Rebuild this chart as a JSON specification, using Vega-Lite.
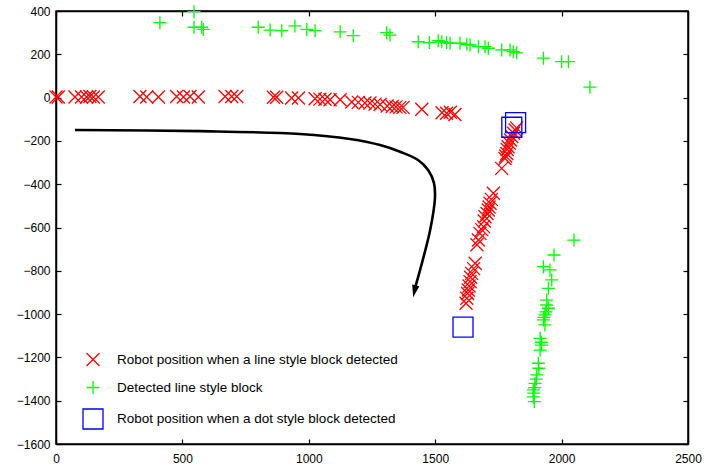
{
  "$schema": "https://vega.github.io/schema/vega-lite/v6.json",
  "width": 632,
  "height": 433,
  "autosize": {"type": "none"},
  "padding": {"left": 56, "top": 11, "right": 29, "bottom": 22},
  "background": "#ffffff",
  "config": {
    "view": {"stroke": "#000000", "strokeWidth": 1.5},
    "font": "Liberation Sans",
    "axis": {
      "labelFont": "Liberation Sans",
      "labelFontSize": 12,
      "labelColor": "#000000",
      "tickColor": "#000000",
      "domainColor": "#000000",
      "domainWidth": 1.5,
      "tickWidth": 1.2,
      "tickSize": -5,
      "grid": false,
      "labelFlush": false,
      "labelOverlap": false,
      "format": "d",
      "title": null
    },
    "legend": {
      "labelFont": "Liberation Sans", "labelFontSize": 13.5, "labelColor": "#000000", "labelLimit": 0,
      "labelOffset": 13, "rowPadding": 9, "symbolStrokeWidth": 1.3, "padding": 0
    }
  },
  "datasets": {
    "pts": [
      {"x": 0, "y": 3, "k": "a"}, {"x": 9, "y": 3, "k": "a"}, {"x": 75, "y": 3, "k": "a"}, {"x": 101, "y": 3, "k": "a"},
      {"x": 121, "y": 3, "k": "a"}, {"x": 134, "y": 5, "k": "a"}, {"x": 148, "y": 3, "k": "a"}, {"x": 167, "y": 3, "k": "a"},
      {"x": 332, "y": 5, "k": "a"}, {"x": 359, "y": 3, "k": "a"}, {"x": 405, "y": 3, "k": "a"}, {"x": 477, "y": 5, "k": "a"},
      {"x": 504, "y": 3, "k": "a"}, {"x": 530, "y": 5, "k": "a"}, {"x": 563, "y": 3, "k": "a"}, {"x": 669, "y": 5, "k": "a"},
      {"x": 695, "y": 5, "k": "a"}, {"x": 715, "y": 5, "k": "a"}, {"x": 860, "y": 2, "k": "a"}, {"x": 873, "y": 2, "k": "a"},
      {"x": 932, "y": -2, "k": "a"}, {"x": 959, "y": -2, "k": "a"}, {"x": 1025, "y": -5, "k": "a"}, {"x": 1044, "y": -7, "k": "a"},
      {"x": 1064, "y": -8, "k": "a"}, {"x": 1084, "y": -10, "k": "a"}, {"x": 1124, "y": -10, "k": "a"}, {"x": 1170, "y": -20, "k": "a"},
      {"x": 1196, "y": -22, "k": "a"}, {"x": 1222, "y": -25, "k": "a"}, {"x": 1242, "y": -25, "k": "a"}, {"x": 1262, "y": -30, "k": "a"},
      {"x": 1282, "y": -32, "k": "a"}, {"x": 1310, "y": -39, "k": "a"}, {"x": 1330, "y": -41, "k": "a"}, {"x": 1345, "y": -43, "k": "a"},
      {"x": 1360, "y": -45, "k": "a"}, {"x": 1373, "y": -45, "k": "a"}, {"x": 1447, "y": -54, "k": "a"}, {"x": 1527, "y": -70, "k": "a"},
      {"x": 1545, "y": -72, "k": "a"}, {"x": 1560, "y": -68, "k": "a"}, {"x": 1578, "y": -78, "k": "a"},
      {"x": 1822, "y": -140, "k": "a"}, {"x": 1816, "y": -150, "k": "a"}, {"x": 1810, "y": -165, "k": "a"}, {"x": 1803, "y": -180, "k": "a"},
      {"x": 1798, "y": -196, "k": "a"}, {"x": 1793, "y": -210, "k": "a"}, {"x": 1788, "y": -227, "k": "a"}, {"x": 1785, "y": -240, "k": "a"},
      {"x": 1783, "y": -258, "k": "a"}, {"x": 1779, "y": -270, "k": "a"}, {"x": 1776, "y": -281, "k": "a"}, {"x": 1763, "y": -327, "k": "a"},
      {"x": 1730, "y": -442, "k": "a"}, {"x": 1722, "y": -470, "k": "a"}, {"x": 1717, "y": -488, "k": "a"}, {"x": 1713, "y": -505, "k": "a"},
      {"x": 1710, "y": -519, "k": "a"}, {"x": 1705, "y": -535, "k": "a"}, {"x": 1697, "y": -550, "k": "a"}, {"x": 1694, "y": -570, "k": "a"},
      {"x": 1691, "y": -596, "k": "a"}, {"x": 1684, "y": -610, "k": "a"}, {"x": 1677, "y": -627, "k": "a"}, {"x": 1671, "y": -658, "k": "a"},
      {"x": 1665, "y": -680, "k": "a"}, {"x": 1658, "y": -765, "k": "a"}, {"x": 1652, "y": -790, "k": "a"}, {"x": 1644, "y": -812, "k": "a"},
      {"x": 1640, "y": -830, "k": "a"}, {"x": 1638, "y": -850, "k": "a"}, {"x": 1634, "y": -870, "k": "a"}, {"x": 1631, "y": -889, "k": "a"},
      {"x": 1628, "y": -905, "k": "a"}, {"x": 1625, "y": -927, "k": "a"}, {"x": 1622, "y": -950, "k": "a"},
      {"x": 411, "y": 346, "k": "b"}, {"x": 546, "y": 397, "k": "b"}, {"x": 546, "y": 325, "k": "b"}, {"x": 576, "y": 325, "k": "b"},
      {"x": 583, "y": 315, "k": "b"}, {"x": 800, "y": 325, "k": "b"}, {"x": 847, "y": 312, "k": "b"}, {"x": 893, "y": 309, "k": "b"},
      {"x": 945, "y": 331, "k": "b"}, {"x": 992, "y": 315, "k": "b"}, {"x": 1025, "y": 309, "k": "b"}, {"x": 1124, "y": 304, "k": "b"},
      {"x": 1176, "y": 286, "k": "b"}, {"x": 1308, "y": 300, "k": "b"}, {"x": 1321, "y": 289, "k": "b"}, {"x": 1433, "y": 258, "k": "b"},
      {"x": 1477, "y": 254, "k": "b"}, {"x": 1512, "y": 263, "k": "b"}, {"x": 1526, "y": 258, "k": "b"}, {"x": 1545, "y": 254, "k": "b"},
      {"x": 1559, "y": 251, "k": "b"}, {"x": 1598, "y": 251, "k": "b"}, {"x": 1625, "y": 246, "k": "b"}, {"x": 1638, "y": 243, "k": "b"},
      {"x": 1671, "y": 235, "k": "b"}, {"x": 1697, "y": 235, "k": "b"}, {"x": 1710, "y": 228, "k": "b"}, {"x": 1763, "y": 220, "k": "b"},
      {"x": 1796, "y": 220, "k": "b"}, {"x": 1809, "y": 212, "k": "b"}, {"x": 1822, "y": 207, "k": "b"}, {"x": 1928, "y": 182, "k": "b"},
      {"x": 2000, "y": 166, "k": "b"}, {"x": 2027, "y": 166, "k": "b"}, {"x": 2112, "y": 48, "k": "b"},
      {"x": 2049, "y": -658, "k": "b"}, {"x": 1970, "y": -727, "k": "b"}, {"x": 1928, "y": -781, "k": "b"}, {"x": 1954, "y": -796, "k": "b"},
      {"x": 1961, "y": -842, "k": "b"}, {"x": 1948, "y": -881, "k": "b"}, {"x": 1941, "y": -935, "k": "b"}, {"x": 1941, "y": -958, "k": "b"},
      {"x": 1948, "y": -973, "k": "b"}, {"x": 1938, "y": -990, "k": "b"}, {"x": 1934, "y": -1004, "k": "b"}, {"x": 1930, "y": -1015, "k": "b"},
      {"x": 1928, "y": -1027, "k": "b"}, {"x": 1934, "y": -1050, "k": "b"}, {"x": 1915, "y": -1112, "k": "b"}, {"x": 1920, "y": -1130, "k": "b"},
      {"x": 1921, "y": -1143, "k": "b"}, {"x": 1915, "y": -1166, "k": "b"}, {"x": 1908, "y": -1227, "k": "b"}, {"x": 1910, "y": -1250, "k": "b"},
      {"x": 1902, "y": -1281, "k": "b"}, {"x": 1900, "y": -1300, "k": "b"}, {"x": 1895, "y": -1320, "k": "b"}, {"x": 1893, "y": -1340, "k": "b"},
      {"x": 1888, "y": -1350, "k": "b"}, {"x": 1890, "y": -1365, "k": "b"}, {"x": 1888, "y": -1382, "k": "b"}, {"x": 1892, "y": -1404, "k": "b"},
      {"x": 1818, "y": -116, "k": "c"}, {"x": 1803, "y": -137, "k": "c"}, {"x": 1610, "y": -1060, "k": "c"}
    ],
    "curve": [
      {"i": 0, "x": 75, "y": -150}, {"i": 1, "x": 570, "y": -155}, {"i": 2, "x": 965, "y": -168},
      {"i": 3, "x": 1163, "y": -191}, {"i": 4, "x": 1282, "y": -219}, {"i": 5, "x": 1361, "y": -250},
      {"i": 6, "x": 1432, "y": -288}, {"i": 7, "x": 1472, "y": -334}, {"i": 8, "x": 1495, "y": -394},
      {"i": 9, "x": 1499, "y": -464}, {"i": 10, "x": 1480, "y": -612}, {"i": 11, "x": 1440, "y": -797},
      {"i": 12, "x": 1420, "y": -880}
    ],
    "head": [{"x": 1418, "y": -895}]
  },
  "layer": [
    {
      "data": {"name": "pts"},
      "mark": {"type": "point", "filled": false, "strokeWidth": 1.3, "opacity": 1},
      "encoding": {
        "x": {"field": "x", "type": "quantitative",
              "scale": {"domain": [0, 2500], "nice": false, "zero": false},
              "axis": {"orient": "bottom", "values": [0, 500, 1000, 1500, 2000, 2500], "labelPadding": 14}},
        "y": {"field": "y", "type": "quantitative",
              "scale": {"domain": [-1600, 400], "nice": false, "zero": false},
              "axis": {"orient": "left", "values": [-1600, -1400, -1200, -1000, -800, -600, -400, -200, 0, 200, 400], "labelPadding": 11}},
        "shape": {"field": "k", "type": "nominal",
                  "scale": {"domain": ["a", "b", "c"], "range": ["M-1,-1L1,1M1,-1L-1,1", "M-1,0L1,0M0,-1L0,1", "square"]},
                  "legend": {"title": null, "orient": "none", "legendX": 26, "legendY": 341,
                             "labelExpr": "datum.value == 'a' ? 'Robot position when a line style block detected' : datum.value == 'b' ? 'Detected line style block' : 'Robot position when a dot style block detected'"}},
        "color": {"field": "k", "type": "nominal",
                  "scale": {"domain": ["a", "b", "c"], "range": ["#ff0000", "#00ff00", "#0000ff"]},
                  "legend": {"title": null, "orient": "none", "legendX": 26, "legendY": 341,
                             "labelExpr": "datum.value == 'a' ? 'Robot position when a line style block detected' : datum.value == 'b' ? 'Detected line style block' : 'Robot position when a dot style block detected'"}},
        "size": {"field": "k", "type": "nominal",
                 "scale": {"type": "ordinal", "domain": ["a", "b", "c"], "range": [169, 169, 400]},
                 "legend": {"title": null, "orient": "none", "legendX": 26, "legendY": 341,
                            "labelExpr": "datum.value == 'a' ? 'Robot position when a line style block detected' : datum.value == 'b' ? 'Detected line style block' : 'Robot position when a dot style block detected'"}}
      }
    },
    {
      "data": {"name": "curve"},
      "mark": {"type": "line", "interpolate": "catmull-rom", "color": "#000000", "strokeWidth": 2.6},
      "encoding": {
        "x": {"field": "x", "type": "quantitative",
              "axis": {"orient": "top", "values": [0, 500, 1000, 1500, 2000, 2500], "labels": false}},
        "y": {"field": "y", "type": "quantitative",
              "axis": {"orient": "right", "values": [-1600, -1400, -1200, -1000, -800, -600, -400, -200, 0, 200, 400], "labels": false}},
        "order": {"field": "i", "type": "quantitative"}
      }
    },
    {
      "data": {"name": "head"},
      "mark": {"type": "point", "shape": "M-0.6,-1L0,1L0.6,-1Z", "filled": true, "color": "#000000", "size": 150, "angle": 12, "opacity": 1},
      "encoding": {
        "x": {"field": "x", "type": "quantitative", "axis": null},
        "y": {"field": "y", "type": "quantitative", "axis": null}
      }
    }
  ],
  "resolve": {"axis": {"x": "independent", "y": "independent"}}
}
